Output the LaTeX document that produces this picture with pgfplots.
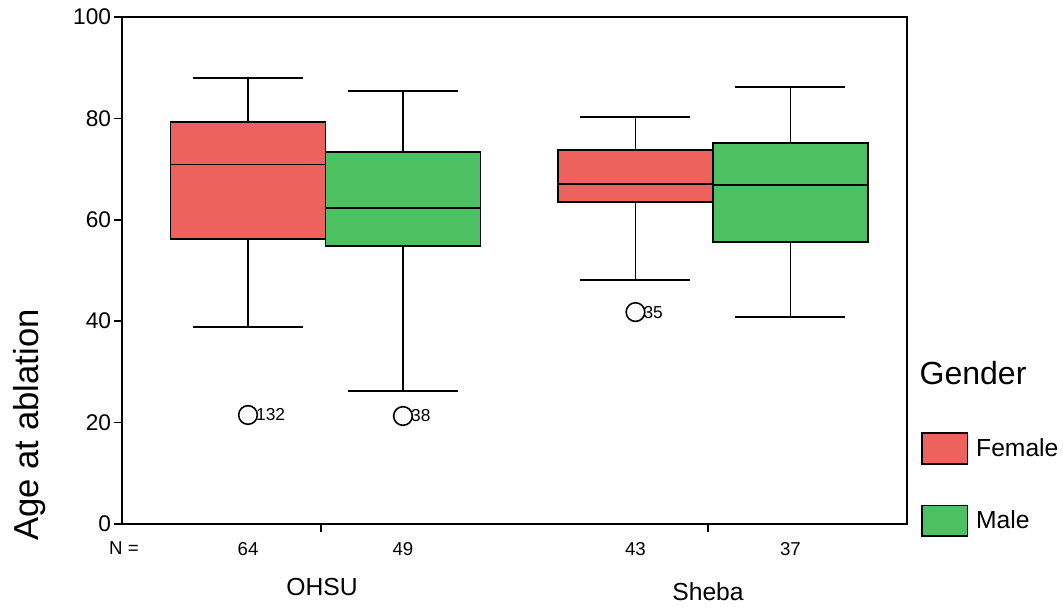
\documentclass[border=0pt]{standalone}
\usepackage{pgfplots}
\pgfplotsset{compat=1.18}
\usepgfplotslibrary{statistics}
\usepackage{fontspec}
\setmainfont{Liberation Sans}
\definecolor{femred}{RGB}{238,98,94}
\definecolor{malegreen}{RGB}{76,192,98}
\pgfplotsset{patchlegend/.style={legend image code/.code={\draw[##1, line width=1.2pt] (0pt,-11.5pt) rectangle (34pt,11.5pt);}}}
\begin{document}
\begin{tikzpicture}
\path[use as bounding box] (0,0) rectangle (797.25pt,456.75pt);
\begin{axis}[
  at={(91.5pt,63.75pt)}, anchor=south west,
  width=588.75pt, height=380.25pt, scale only axis,
  xmin=0.187, xmax=5.252, ymin=0, ymax=100,
  axis line style={line width=1.3pt},
  ytick={0,20,40,60,80,100},
  xtick pos=bottom, ytick pos=left,
  tick align=outside, major tick length=6pt,
  tick style={line width=1.3pt, black},
  /pgf/number format/assume math mode=true,
  yticklabel style={font=\fontsize{17}{17}\selectfont, inner sep=2pt},
  xtick={1.47,3.97}, xticklabels={},
  extra x ticks={1,2,3.5,4.5},
  extra x tick labels={64,49,43,37},
  extra x tick style={major tick length=0pt, grid=none, xticklabel style={font=\fontsize{14}{14}\selectfont, yshift=-10pt}},
  boxplot/draw direction=y,
  boxplot/box extend=1, boxplot/whisker extend=0.71,
  boxplot/every box/.style={draw=black, line width=1.2pt},
  boxplot/every median/.style={draw=black, line width=1.4pt},
  boxplot/every whisker/.style={draw=black, line width=1.4pt},
  legend style={at={(1.0178,0.1815)}, anchor=north west, draw=none, fill=none,
    inner sep=0pt, row sep=30pt, column sep=6pt,
    font=\fontsize{18.5}{18.5}\selectfont, nodes={inner sep=0pt}},
  legend cell align=left,
]
\addlegendimage{patchlegend, fill=femred, draw=black}
\addlegendentry{Female}
\addlegendimage{patchlegend, fill=malegreen, draw=black}
\addlegendentry{Male}
\addplot[fill=femred, draw=black, line width=1.2pt,
  boxplot prepared={draw position=1, lower whisker=38.8, lower quartile=56.2,
  median=70.9, upper quartile=79.3, upper whisker=88.0}] coordinates {};
\addplot[fill=malegreen, draw=black, line width=1.2pt,
  boxplot prepared={draw position=2, lower whisker=26.2, lower quartile=54.8,
  median=62.4, upper quartile=73.4, upper whisker=85.4}] coordinates {};
\addplot[fill=femred, draw=black, line width=1.2pt,
  boxplot prepared={draw position=3.5, lower whisker=48.1, lower quartile=63.5,
  median=67.0, upper quartile=73.8, upper whisker=80.3}] coordinates {};
\addplot[fill=malegreen, draw=black, line width=1.2pt,
  boxplot prepared={draw position=4.5, lower whisker=40.8, lower quartile=55.6,
  median=66.9, upper quartile=75.1, upper whisker=86.2}] coordinates {};
\addplot[only marks, mark=o, mark size=7pt, mark options={line width=1.2pt, black},
  nodes near coords, point meta=explicit symbolic,
  nodes near coords style={anchor=west, inner sep=0pt, xshift=5.5pt, font=\fontsize{13}{13}\selectfont, black}]
  coordinates {(1,21.5)[132] (2,21.3)[38] (3.5,41.8)[35]};
\end{axis}
\node[rotate=90, font=\fontsize{26}{26}\selectfont] at (22.5pt,138pt) {Age at ablation};
\node[anchor=west, font=\fontsize{24}{24}\selectfont] at (686.25pt,177pt) {Gender};
\node[font=\fontsize{14}{14}\selectfont] at (93pt,45.75pt) {N =};
\node[font=\fontsize{18.5}{18.5}\selectfont] at (241.5pt,16.5pt) {OHSU};
\node[font=\fontsize{18.5}{18.5}\selectfont] at (531pt,13pt) {Sheba};
\end{tikzpicture}
\end{document}
